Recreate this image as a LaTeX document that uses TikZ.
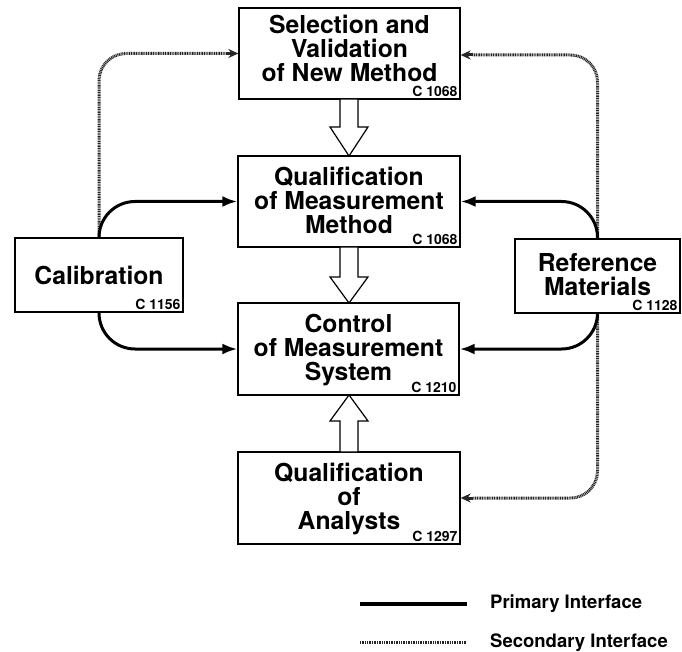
\documentclass[tikz,border=0pt]{standalone}
\usepackage{fontspec}
\setmainfont{TeX Gyre Heros}
\usetikzlibrary{arrows.meta}
\begin{document}
\begin{tikzpicture}[x=1pt,y=-1pt,
  box/.style={draw, line width=1.3pt, fill=white, inner sep=0pt},
  boxtext/.style={align=center, inner sep=0pt, font=\fontsize{24.7}{24.2}\selectfont\bfseries},
  code/.style={inner sep=0pt, anchor=base east, font=\fontsize{14}{15}\selectfont\bfseries},
  primary/.style={line width=3pt, rounded corners=36pt, -{Latex[length=15pt,width=11pt]}},
  secondary/.style={line width=3pt, black!85, dash pattern=on 1pt off 0.7pt, rounded corners=27pt},
  sectip/.style={line width=3pt, black!85, -{Stealth[length=10pt,width=9pt,black!85]}},
  hollow/.style={draw, fill=white, line width=1.2pt, line join=miter},
  legend/.style={anchor=base west, inner sep=0pt, font=\fontsize{18.5}{20}\selectfont\bfseries}
]
\useasboundingbox (0,0) rectangle (682,652);

% boxes
\node[box, minimum width=221pt, minimum height=91pt] (sel) at (349.5,53.5) {};
\node[box, minimum width=222pt, minimum height=91pt] (qmm) at (349,201.5) {};
\node[box, minimum width=221pt, minimum height=92pt] (ctl) at (348.5,349) {};
\node[box, minimum width=222pt, minimum height=92pt] (ana) at (349,498) {};
\node[box, minimum width=168pt, minimum height=74pt] (cal) at (99,275) {};
\node[box, minimum width=165pt, minimum height=74pt] (ref) at (597.5,276) {};

% box texts
\node[boxtext] (selt) at ([yshift=5pt]sel.center) {Selection and\\Validation\\of New Method};
\node[boxtext] (qmmt) at ([yshift=1pt]qmm.center) {Qualification\\of Measurement\\Method};
\node[boxtext] (ctlt) at ([yshift=-1pt]ctl.center) {Control\\of Measurement\\System};
\node[boxtext] (anat) at ([yshift=-1pt]ana.center) {Qualification\\of\\Analysts};
\node[boxtext] (calt) at ([yshift=0pt]cal.center) {Calibration};
\node[boxtext] (reft) at ([yshift=1pt]ref.center) {Reference\\Materials};

% codes
\node[code] (c1) at ([xshift=-3pt,yshift=3pt]sel.south east) {C 1068};
\node[code] (c2) at ([xshift=-3pt,yshift=3.5pt]qmm.south east) {C 1068};
\node[code] (c3) at ([xshift=-3pt,yshift=3.5pt]ctl.south east) {C 1210};
\node[code] (c4) at ([xshift=-3pt,yshift=3.5pt]ana.south east) {C 1297};
\node[code] (c5) at ([xshift=-3pt,yshift=3.5pt]cal.south east) {C 1156};
\node[code] (c6) at ([xshift=-3pt,yshift=3.5pt]ref.south east) {C 1128};

% secondary interfaces
\coordinate (s1) at ([xshift=-12pt]sel.west);
\coordinate (s2) at ([xshift=12pt,yshift=-1.5pt]sel.east);
\coordinate (s3) at ([xshift=12pt]ana.east);
\draw[secondary] (cal.north) |- (s1);
\draw[sectip] (s1) -- (sel.west);
\draw[secondary] (ref.north) |- (s2);
\draw[sectip] (s2) -- ([yshift=-1.5pt]sel.east);
\draw[secondary] (ref.south) |- (s3);
\draw[sectip] (s3) -- (ana.east);

% primary interfaces
\draw[primary] (cal.north) |- (qmm.west);
\draw[primary] (cal.south) |- (ctl.west);
\draw[primary] (ref.north) |- (qmm.east);
\draw[primary] (ref.south) |- (ctl.east);

% hollow arrows
\draw[hollow] (340,99) -- (340,127) -- (330,127) -- (349,156) -- (368,127) -- (358,127) -- (358,99) -- cycle;
\draw[hollow] (340,247) -- (340,277) -- (330,277) -- (349,303) -- (368,277) -- (358,277) -- (358,247) -- cycle;
\draw[hollow] (340,452) -- (340,421) -- (330,421) -- (349,395) -- (368,421) -- (358,421) -- (358,452) -- cycle;

% legend
\coordinate (pa) at (360,604);
\coordinate (pb) at (467,604);
\coordinate (sa) at (360,642);
\coordinate (sb) at (467,642);
\draw[line width=4pt] (pa) -- (pb);
\draw[secondary] (sa) -- (sb);
\node[legend] (lp) at (490,608.5) {Primary Interface};
\node[legend] (ls) at (490,647.5) {Secondary Interface};
\end{tikzpicture}
\end{document}
